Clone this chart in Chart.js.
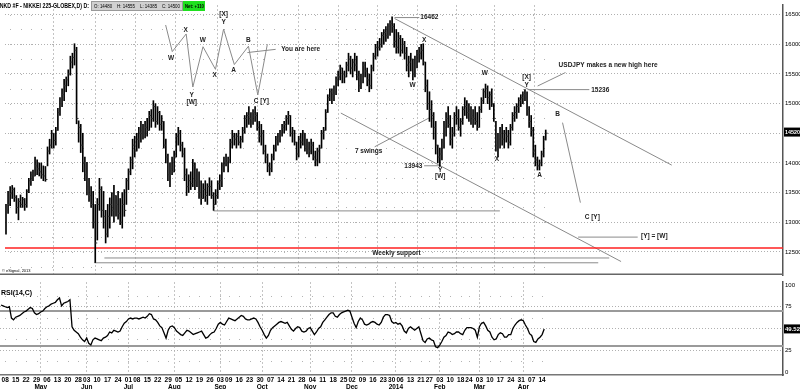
<!DOCTYPE html>
<html>
<head>
<meta charset="utf-8">
<script src="https://cdn.jsdelivr.net/npm/chart.js@4.4.0/dist/chart.umd.min.js"></script>
<style>
body{margin:0;background:#fff;width:800px;height:389px;overflow:hidden;position:relative}
canvas{position:absolute;left:0}
#price{top:0}
#rsi{top:280px}
</style>
</head>
<body>
<canvas id="price" width="800" height="280"></canvas>
<canvas id="rsi" width="800" height="109"></canvas>
<script>
// weekly date ticks (trading-day index) and month starts
var weekIdx = [2,7,12,17,22,27,32,37,41,46,51,56,61,65,70,75,80,85,90,95,100,105,109,114,119,124,129,134,139,144,149,154,159,164,168,173,178,183,187,191,196,201,205,210,215,220,224,229,234,239,244,249,254,259];
var weekLbl = ["08","15","22","29","06","13","20","28","03","10","17","24","01","08","15","22","29","05","12","19","26","03","09","16","23","30","07","14","21","28","04","11","18","25","02","09","16","23","30","06","13","21","27","03","10","18","24","03","10","17","24","31","07","14"];
var monthIdx = [19,41,61,83,105,125,148,168,189,210,229,250];
var monthLbl = ["May","Jun","Jul","Aug","Sep","Oct","Nov","Dec","2014","Feb","Mar","Apr"];

// daily bars
var highs = [13300,13520,13600,13620,13580,13450,13400,13460,13420,13400,
13550,13740,13850,13880,14100,14050,14000,14000,13950,13940,
14270,14400,14550,14500,14600,14920,15100,15250,15410,15450,
15570,15800,15850,16010,15950,14710,14650,14500,14100,14010,
13740,13600,13520,13300,13400,13740,13600,13520,13200,13300,
13410,13500,13620,13450,13520,13400,13500,13550,13740,13900,
14100,14400,14450,14500,14600,14700,14650,14700,14750,14870,
14900,15050,15000,14950,14870,14800,14700,14400,14150,14000,
14100,14200,14500,14600,14550,14350,14250,13900,13800,13850,
14060,14000,13900,13850,13700,13650,13700,13650,13750,13700,
13500,13550,13700,13800,14000,14100,14150,14100,14400,14550,
14500,14500,14550,14450,14600,14800,14850,14950,14850,14900,
14950,14850,14700,14650,14550,14300,14150,14000,14150,14300,
14450,14500,14550,14650,14700,14800,14870,14800,14600,14550,
14350,14450,14500,14550,14500,14400,14350,14400,14350,14200,
14250,14300,14550,14600,14900,15150,15250,15250,15300,15450,
15550,15650,15600,15550,15700,15850,15800,15750,15850,15800,
15550,15500,15700,15700,15600,15500,15650,15850,16000,16050,
16100,16200,16250,16300,16350,16400,16462,16350,16250,16200,
16150,16100,16050,15950,15800,15850,15750,15800,15900,15950,
16000,16010,15700,15400,15200,15050,14850,14700,14300,14250,
14400,14700,14850,14950,14800,14600,14850,14950,14900,14750,
14950,15100,15050,15000,14950,14900,14950,14850,14950,15100,
15250,15330,15300,15200,15250,15000,14700,14500,14600,14650,
14550,14600,14550,14650,14850,14950,15000,15100,15150,15200,
15236,15200,14950,14800,14600,14300,14100,14050,14200,14450,
14555];
var lows = [12800,13150,13280,13400,13350,13150,13040,13250,13250,13200,
13250,13500,13620,13700,13780,13800,13780,13740,13700,13690,
13950,14150,14250,14250,14300,14550,14800,14950,15050,15200,
15300,15480,15600,15650,14660,14350,14175,13850,13700,13460,
13350,13250,12900,12320,12700,13200,13085,12900,12650,12750,
12900,13100,13000,13100,13050,12960,12900,13100,13300,13550,
13800,13900,14100,14200,14250,14350,14400,14420,14450,14550,
14600,14700,14600,14650,14550,14550,14250,14000,13700,13600,
13800,13850,14100,14300,14200,14100,13700,13450,13500,13550,
13600,13550,13600,13400,13300,13400,13350,13300,13450,13400,
13200,13300,13400,13550,13600,13850,13950,13850,14000,14250,
14300,14250,14300,14250,14350,14500,14600,14650,14600,14650,
14700,14550,14350,14300,14150,14000,13850,13790,13850,14050,
14200,14300,14350,14450,14500,14550,14650,14450,14350,14300,
14050,14100,14250,14300,14200,14150,14100,14150,14050,13950,
13950,14000,14250,14400,14550,14850,15050,15000,15050,15150,
15300,15400,15350,15350,15450,15550,15500,15450,15550,15400,
15200,15250,15350,15450,15300,15200,15250,15550,15750,15800,
15900,15950,16000,16050,16100,16150,16200,15950,15850,15850,
15800,15850,15750,15550,15450,15550,15400,15450,15600,15700,
15750,15650,15200,14900,14700,14600,14400,14150,14000,13943,
14050,14250,14450,14600,14300,14250,14450,14650,14550,14450,
14650,14800,14750,14700,14650,14600,14650,14550,14600,14850,
15000,15100,15000,14900,14950,14700,14200,14100,14250,14300,
14250,14350,14250,14300,14550,14700,14750,14850,14950,15000,
15050,14800,14600,14450,14100,13950,13880,13880,13950,14100,
14385];
var closes = [13200,13300,13480,13550,13420,13250,13350,13300,13380,13300,
13520,13700,13800,13780,13950,13900,13850,13800,13780,13720,
14200,14300,14500,14380,14550,14850,15000,15150,15300,15400,
15500,15700,15780,15900,14750,14600,14300,14000,13800,13600,
13450,13300,13000,12650,13300,13550,13200,13100,12800,13100,
13300,13200,13450,13300,13150,13000,13300,13200,13700,13850,
14050,14300,14200,14400,14500,14550,14500,14600,14550,14800,
14750,14950,14700,14850,14650,14700,14300,14100,13800,13900,
13850,14100,14450,14500,14300,14150,13800,13600,13700,13650,
13950,13700,13800,13500,13400,13550,13450,13600,13600,13450,
13300,13450,13650,13700,13950,14050,14000,14050,14350,14450,
14400,14450,14350,14400,14550,14750,14800,14750,14700,14850,
14800,14600,14450,14500,14200,14100,13950,13900,14100,14250,
14400,14450,14500,14600,14650,14750,14800,14500,14550,14350,
14150,14400,14350,14500,14300,14250,14200,14300,14100,14050,
14200,14250,14500,14550,14850,15100,15200,15150,15200,15400,
15450,15600,15500,15450,15650,15750,15600,15700,15650,15450,
15300,15450,15650,15550,15400,15300,15600,15800,15950,15950,
16000,16150,16200,16150,16300,16350,16300,16050,15950,16100,
15900,16000,15850,15650,15700,15750,15500,15750,15850,15850,
15900,15700,15300,15000,14900,14800,14600,14300,14100,14150,
14350,14600,14750,14650,14400,14500,14800,14750,14600,14700,
14900,14950,14850,14900,14800,14750,14700,14600,14900,15050,
15200,15250,15100,15150,15000,14750,14300,14400,14500,14400,
14500,14450,14350,14600,14800,14850,14950,15050,15100,15150,
15100,14900,14700,14550,14200,14050,13950,14000,14150,14400,
14500];
var rsi = [77,76,75,74,75,62,60,63,64,65,
67,69,70,72,74,73,68,66,67,69,
70,73,75,76,78,79,80,83,85,76,
79,80,81,83,52,48,46,44,40,37,
35,39,33,31,37,39,38,37,36,39,
40,42,46,45,48,47,46,47,52,56,
58,61,62,61,62,62,61,62,63,62,
64,67,66,61,60,57,53,51,45,39,
48,52,53,51,47,45,43,42,45,48,
47,45,43,44,45,46,47,43,39,40,
43,45,46,50,55,57,55,54,58,62,
61,60,59,61,63,65,64,61,60,60,
61,62,61,57,52,48,43,39,42,48,
51,53,55,57,58,57,56,57,53,49,
47,50,52,51,47,46,47,50,51,47,
43,46,50,52,57,60,63,66,68,68,
64,63,66,68,69,70,71,70,63,56,
51,58,62,60,55,54,55,57,58,57,
55,54,57,63,66,66,65,58,56,57,
55,56,53,47,45,50,52,50,48,50,
52,44,36,34,38,39,37,36,29,28,
31,35,40,42,46,45,43,44,46,46,
44,43,48,51,51,51,50,48,40,52,
56,57,53,48,46,40,37,38,43,45,
44,40,40,43,43,50,54,57,59,60,
59,54,50,44,42,35,34,38,40,43,
49.52];

var priceTicks = [12500,13000,13500,14000,14500,15000,15500,16000,16500];
var rsiTicks = [0,25,50,75,100];
var rsiLevels = [70,30];
var redSupport = 12565;
var lastPrice = 14520;
var lastRsi = 49.52;

// annotations in (bar index, price)
var wavePath = [[76.9,16326],[80.1,15877],[86.8,16175],[90.0,15280],[94.9,15959],[100.9,15578],[104.8,16256],[110.0,15659],[116.8,15968],[121.3,15146],[125.9,16001]];
var segments = [
  [116.3,15861,129.9,15915],
  [187.2,16451,199.1,16451],
  [187.2,16435,320.7,13963],
  [251.3,15236,281,15236],
  [256.1,15297,269.5,15524],
  [268.1,14679,276.7,13330],
  [161.3,14841,296.3,12337],
  [177.6,14272,203.9,14760],
  [100,13191,237.9,13191],
  [201.4,13952,209.2,13952],
  [275.6,12749,304.3,12749],
  [47.4,12397,290.6,12397],
  [42.6,12316,285.3,12316]
];
var notes = [
  [79.5,15768,'W','center'],[86.6,16240,'X','center'],[89.5,15150,'Y','center'],[89.5,15020,'[W]','center'],
  [94.8,16061,'W','center'],[100.5,15476,'X','center'],[104.8,16500,'[X]','center'],[104.8,16370,'Y','center'],
  [109.6,15557,'A','center'],[116.8,16061,'B','center'],[123,15037,'C [Y]','center'],
  [132.6,15915,'You are here','left'],[199.6,16451,'16462','left'],
  [195.8,15313,'W','center'],[201.5,16061,'X','center'],[174.7,14191,'7 swings','center'],
  [200.6,13947,'13943','right'],[209.2,13882,'Y','center'],[209.2,13768,'[W]','center'],
  [230.7,15508,'W','center'],[236.5,14061,'X','center'],[250.8,15443,'[X]','center'],[250.8,15313,'Y','center'],
  [257.1,13785,'A','center'],[265.7,14825,'B','center'],
  [266.2,15654,'USDJPY makes a new high here','left'],[281.9,15232,'15236','left'],
  [282.4,13085,'C [Y]','center'],[305.9,12760,'[Y] = [W]','left'],[188.1,12484,'Weekly support','center']
];

var xMin = -0.48, xMax = 374.3;
var FONT = 'Liberation Sans';

var barData = highs.map(function(h, i){ return {x: i, y: [lows[i], h]}; });
var closeData = closes.map(function(c, i){ return {x: i, y: c}; });

var priceSets = [
  {type: 'bar', data: barData, backgroundColor: '#000', barThickness: 1, grouped: false, order: 1},
  {type: 'line', data: closeData, showLine: false, pointStyle: 'dash', pointRadius: 2, borderColor: '#333', borderWidth: 1, order: 0},
  {type: 'line', data: wavePath.map(function(p){ return {x: p[0], y: p[1]}; }), borderColor: '#8a8a8a', borderWidth: 1, pointRadius: 0, order: 2},
  {type: 'line', data: [{x: xMin, y: redSupport}, {x: xMax, y: redSupport}], borderColor: '#ff2020', borderWidth: 1.5, pointRadius: 0, order: 2}
];
segments.forEach(function(s){
  priceSets.push({type: 'line', data: [{x: s[0], y: s[1]}, {x: s[2], y: s[3]}], borderColor: '#8a8a8a', borderWidth: 1, pointRadius: 0, order: 2});
});

function monthAxis(h, show) {
  return {
    type: 'linear', position: 'bottom', min: xMin, max: xMax,
    afterBuildTicks: function(s){ s.ticks = monthIdx.map(function(v){ return {value: v}; }); },
    afterFit: function(s){ s.height = h; s.paddingLeft = 0; s.paddingRight = 0; },
    ticks: {display: show, autoSkip: false, maxRotation: 0, padding: 0, color: '#000',
      font: {family: FONT, size: 6.5, weight: 'bold'}, callback: function(v, i){ return monthLbl[i]; }},
    grid: {color: '#c4c4c4', drawTicks: false},
    border: {display: false, dash: [2, 2]}
  };
}

var priceDeco = {
  id: 'priceDeco',
  beforeDatasetsDraw: function(chart) {
    var ctx = chart.ctx, x = chart.scales.x, y = chart.scales.y;
    ctx.save();
    ctx.fillStyle = '#b4b4b4';
    weekIdx.forEach(function(w){
      for (var p = 12250; p <= 16500; p += 250) {
        ctx.fillRect(Math.round(x.getPixelForValue(w)), Math.round(y.getPixelForValue(p)), 1, 1);
      }
    });
    ctx.restore();
  },
  afterDraw: function(chart) {
    var ctx = chart.ctx, x = chart.scales.x, y = chart.scales.y, a = chart.chartArea;
    ctx.save();
    ctx.fillStyle = '#222';
    ctx.textBaseline = 'middle';
    ctx.font = 'bold 6.5px "' + FONT + '"';
    notes.forEach(function(n){
      ctx.textAlign = n[3];
      ctx.fillText(n[2], x.getPixelForValue(n[0]), y.getPixelForValue(n[1]));
    });
    // header
    ctx.textAlign = 'left';
    ctx.fillStyle = '#000';
    ctx.font = 'bold 6.5px "' + FONT + '"';
    ctx.fillText('(NKD #F - NIKKEI 225-GLOBEX,D) D:', -2, 6, 91);
    ctx.fillStyle = '#d0d0d0';
    ctx.fillRect(91, 1, 92, 10);
    ctx.strokeStyle = '#999';
    ctx.lineWidth = 1;
    ctx.strokeRect(91.5, 1.5, 91, 9);
    ctx.fillStyle = '#000';
    ctx.font = '5px "' + FONT + '"';
    ctx.fillText('O: 14480    H: 14555    L: 14385    C: 14500', 94, 6.5, 86);
    ctx.fillStyle = '#1ee01e';
    ctx.fillRect(183, 1, 22, 10);
    ctx.fillStyle = '#000';
    ctx.font = 'bold 5px "' + FONT + '"';
    ctx.fillText('Net: +110', 185, 6.5, 19);
    // copyright
    ctx.font = '4px "' + FONT + '"';
    ctx.fillText('\u00a9 eSignal, 2013', 2, a.bottom - 4);
    // last price box
    var py = y.getPixelForValue(lastPrice);
    ctx.fillStyle = '#000';
    ctx.fillRect(a.right + 1, py - 4.5, 17, 9);
    ctx.fillStyle = '#fff';
    ctx.font = 'bold 6px "' + FONT + '"';
    ctx.fillText(String(lastPrice), a.right + 2, py + 0.5, 15);
    // panel bottom border
    ctx.strokeStyle = '#666';
    ctx.lineWidth = 1.5;
    ctx.beginPath();
    ctx.moveTo(0, a.bottom - 0.75);
    ctx.lineTo(a.right, a.bottom - 0.75);
    ctx.stroke();
    ctx.restore();
  }
};

new Chart(document.getElementById('price').getContext('2d'), {
  type: 'bar',
  data: {datasets: priceSets},
  options: {
    responsive: false, animation: false, events: [],
    layout: {padding: 0},
    plugins: {legend: {display: false}, tooltip: {enabled: false}},
    scales: {
      x: {type: 'linear', display: false, min: xMin, max: xMax, offset: false},
      xm: monthAxis(0, false),
      y: {
        position: 'right', min: 12110, max: 16663,
        afterBuildTicks: function(s){ s.ticks = priceTicks.map(function(v){ return {value: v}; }); },
        afterFit: function(s){ s.width = 17; s.paddingTop = 0; s.paddingBottom = 0; },
        ticks: {padding: 2, color: '#000', font: {family: FONT, size: 6}, callback: function(v){ return v === 14500 ? '' : String(v); }},
        grid: {color: '#b0b0b0', drawTicks: false},
        border: {display: true, color: '#555', width: 1.5, dash: [1, 2]}
      }
    }
  },
  plugins: [priceDeco]
});

var rsiDeco = {
  id: 'rsiDeco',
  beforeDatasetsDraw: function(chart) {
    var ctx = chart.ctx, x = chart.scales.x, y = chart.scales.y;
    ctx.save();
    ctx.fillStyle = '#b4b4b4';
    weekIdx.forEach(function(w){
      [12.5, 37.5, 62.5, 87.5].forEach(function(v){
        ctx.fillRect(Math.round(x.getPixelForValue(w)), Math.round(y.getPixelForValue(v)), 1, 1);
      });
    });
    ctx.restore();
  },
  afterDraw: function(chart) {
    var ctx = chart.ctx, y = chart.scales.y, a = chart.chartArea;
    ctx.save();
    ctx.textBaseline = 'middle';
    ctx.fillStyle = '#000';
    ctx.font = 'bold 7px "' + FONT + '"';
    ctx.fillText('RSI(14,C)', 1, 13);
    var ry = y.getPixelForValue(lastRsi);
    ctx.fillRect(a.right + 1, ry - 4.5, 17, 9);
    ctx.fillStyle = '#fff';
    ctx.font = 'bold 6px "' + FONT + '"';
    ctx.fillText(lastRsi.toFixed(2), a.right + 2, ry + 0.5, 15);
    ctx.restore();
  }
};

var rsiSets = [
  {type: 'line', data: rsi.map(function(v, i){ return {x: i, y: v}; }), borderColor: '#000', borderWidth: 1.3, pointRadius: 0, tension: 0}
];
rsiLevels.forEach(function(l){
  rsiSets.push({type: 'line', data: [{x: xMin, y: l}, {x: xMax, y: l}], borderColor: '#9a9a9a', borderWidth: 2, pointRadius: 0});
});

new Chart(document.getElementById('rsi').getContext('2d'), {
  type: 'line',
  data: {datasets: rsiSets},
  options: {
    responsive: false, animation: false, events: [],
    layout: {padding: {top: 2}},
    plugins: {legend: {display: false}, tooltip: {enabled: false}},
    scales: {
      x: {
        type: 'linear', position: 'bottom', min: xMin, max: xMax,
        afterBuildTicks: function(s){ s.ticks = weekIdx.map(function(v){ return {value: v}; }); },
        afterFit: function(s){ s.height = 8; s.paddingLeft = 0; s.paddingRight = 0; },
        ticks: {autoSkip: false, maxRotation: 0, padding: 1, color: '#000',
          font: {family: FONT, size: 6.5, weight: 'bold'}, callback: function(v, i){ return weekLbl[i]; }},
        grid: {display: false, drawTicks: false},
        border: {display: true, color: '#777', width: 1.5}
      },
      xm: monthAxis(6, true),
      y: {
        position: 'right', min: -3.4, max: 103.4,
        afterBuildTicks: function(s){ s.ticks = rsiTicks.map(function(v){ return {value: v}; }); },
        afterFit: function(s){ s.width = 17; s.paddingTop = 0; s.paddingBottom = 0; },
        ticks: {padding: 2, color: '#000', font: {family: FONT, size: 6}, callback: function(v){ return v === 50 ? '' : String(v); }},
        grid: {drawTicks: false, color: function(c){ return (c.tick && (c.tick.value === 0 || c.tick.value === 100)) ? 'rgba(0,0,0,0)' : '#b0b0b0'; }},
        border: {display: true, color: '#555', width: 1.5, dash: [1, 2]}
      }
    }
  },
  plugins: [rsiDeco]
});
</script>
</body>
</html>
